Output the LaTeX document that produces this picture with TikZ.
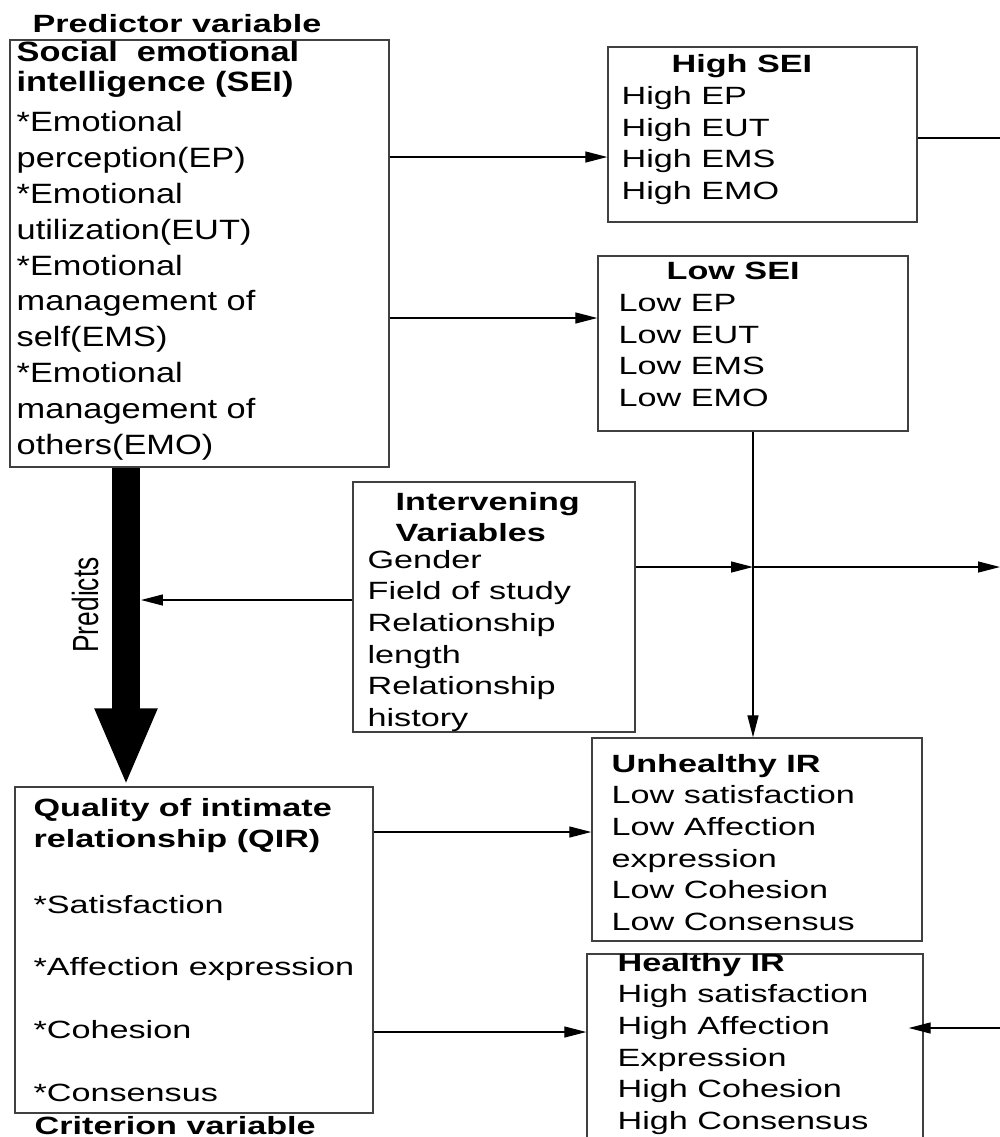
\documentclass[tikz,border=0pt]{standalone}
\usepackage{fontspec}
\setmainfont[FakeStretch=1.37]{Liberation Sans}
\newfontfamily\seifont[FakeStretch=1.23]{Liberation Sans}
\newfontfamily\predfont{Liberation Sans}
\usetikzlibrary{arrows.meta,fit,calc}

\begin{document}
\begin{tikzpicture}[x=0.02cm,y=-0.02cm,
  box/.style={draw=black!75,line width=0.8pt,inner sep=0pt},
  txt/.style={anchor=base west,inner sep=0pt,align=left,
    font=\fontsize{14.2}{18}\selectfont},
  bold/.style={txt,font=\fontsize{14.2}{17.4}\selectfont\bfseries},
  seihead/.style={txt,font=\seifont\fontsize{15.9}{17}\selectfont\bfseries},
  seilist/.style={txt,font=\seifont\fontsize{15.9}{20.4}\selectfont},
  conn/.style={line width=0.75pt,-{Triangle[length=0.44cm,width=0.22cm]}},
  link/.style={line width=0.75pt},
  predict/.style={line width=0.58cm,-{Triangle[length=1.56cm,width=1.14cm]}}]
    \useasboundingbox (0,0) rectangle (1000,1137);
    \clip (0,0) rectangle (1000,1137);
    % Boxes
    \node[box,fit={(10,40)(389,467)}] (sei) {};
    \node[box,fit={(608,47)(917,222)}] (hisei) {};
    \node[box,fit={(598,256)(908,431)}] (losei) {};
    \node[box,fit={(353,482)(635,732)}] (inter) {};
    \node[box,fit={(592,738)(922,941)}] (unh) {};
    \node[box,fit={(587,954)(923,1160)}] (hea) {};
    \node[box,fit={(15,787)(373,1113)}] (qir) {};
    % Texts (placed by the baseline of their last line)
    \node[bold] (ptitle) at ($(sei.north west)+(23,-7)$) {Predictor variable};
    \node[seihead] (seihd) at ($(sei.north west)+(7,52)$)
      {Social~ emotional\\intelligence (SEI)};
    \node[seilist] (seitx) at ($(sei.north west)+(7,415)$)
      {*Emotional\\perception(EP)\\*Emotional\\utilization(EUT)\\*Emotional\\
       management of\\self(EMS)\\*Emotional\\management of\\others(EMO)};
    \node[bold] (hihd) at ($(hisei.north west)+(64,26)$) {High SEI};
    \node[txt] (hitx) at ($(hisei.north west)+(14,153)$)
      {High EP\\High EUT\\High EMS\\High EMO};
    \node[bold] (lohd) at ($(losei.north west)+(69,24)$) {Low SEI};
    \node[txt] (lotx) at ($(losei.north west)+(21,151)$)
      {Low EP\\Low EUT\\Low EMS\\Low EMO};
    \node[bold] (ivhd) at ($(inter.north west)+(43,60)$) {Intervening\\Variables};
    \node[txt] (ivtx) at ($(inter.north west)+(15,245)$)
      {Gender\\Field of study\\Relationship\\length\\Relationship\\history};
    \node[txt] (unhtx) at ($(unh.north west)+(20,193)$)
      {\textbf{Unhealthy IR}\\Low satisfaction\\Low Affection\\expression\\
       Low Cohesion\\Low Consensus};
    \node[txt] (heatx) at ($(hea.north west)+(31,176)$)
      {\textbf{Healthy IR}\\High satisfaction\\High Affection\\Expression\\
       High Cohesion\\High Consensus};
    \node[bold] (qirhd) at ($(qir.north west)+(19,61)$)
      {Quality of intimate\\relationship (QIR)};
    \node[txt,font=\fontsize{14.2}{35.7}\selectfont] (qirtx) at ($(qir.north west)+(19,315)$)
      {*Satisfaction\\*Affection expression\\*Cohesion\\*Consensus};
    \node[bold] (crit) at ($(qir.north west)+(20,348)$) {Criterion variable};
    % Predicts arrow
    \coordinate (predx) at (126,0);
    \draw[predict] (sei.south -| predx) -- (qir.north -| predx);
    \node[rotate=90,inner sep=0pt,font=\predfont\fontsize{15}{18}\selectfont]
      (predlbl) at (86,605) {\scalebox{1}[1.38]{Predicts}};
    \coordinate (shaft) at (141,600);
    % Free ends on the right
    \coordinate (rHi) at (1000,138);
    \coordinate (rIv) at (1000,567);
    \coordinate (rHe) at (1000,1028);
    % Connectors
    \draw[conn] (sei.east |- 0,157) -- (hisei.west |- 0,157);
    \draw[conn] (sei.east |- 0,318) -- (losei.west |- 0,318);
    \draw[link] (hisei.east |- rHi) -- (rHi);
    \draw[conn] (losei.south) -- (unh.north -| losei.south);
    \draw[conn] (inter.east |- rIv) -- (losei.south |- rIv);
    \draw[conn] (losei.south |- rIv) -- (rIv);
    \draw[conn] (inter.west |- shaft) -- (shaft);
    \draw[conn] (qir.east |- 0,832) -- (unh.west |- 0,832);
    \draw[conn] (qir.east |- 0,1032) -- (hea.west |- 0,1032);
    \draw[conn] (rHe) -- ($(hea.east |- rHe)+(-15,0)$);
\end{tikzpicture}
\end{document}
